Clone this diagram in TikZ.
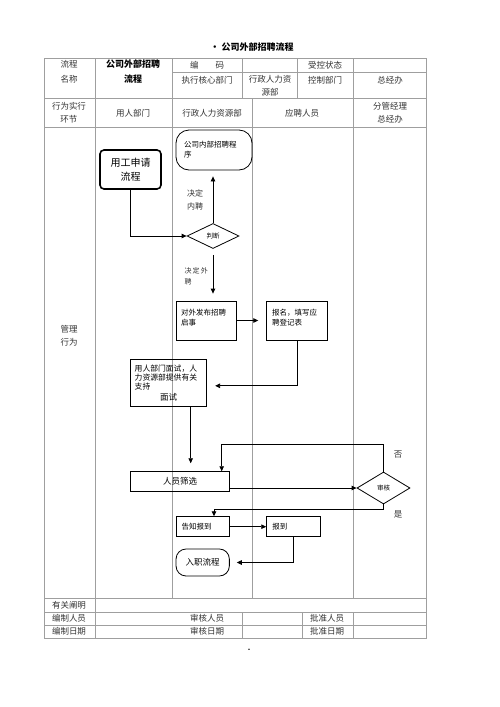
\documentclass[tikz,border=0pt]{standalone}
\usepackage{fontspec}
\setmainfont{Noto Sans CJK SC}
\usetikzlibrary{arrows.meta,shapes.geometric}

\begin{document}
\begin{tikzpicture}[x=1pt,y=-1pt,
  tbl/.style={draw=gray!75,line width=.6pt},
  cell/.style={font=\fontsize{8.5}{13}\selectfont,align=center,text=black!80},
  flow/.style={draw,line width=.8pt,font=\fontsize{7.5}{10}\selectfont,align=left,inner sep=3pt},
  arr/.style={-{Triangle[length=5pt,width=4.5pt]},line width=.8pt}]
\useasboundingbox (0,0) rectangle (500,707);
\node[font=\bfseries\fontsize{9}{11}\selectfont] (title) at (252,47) {\textbullet\ 公司外部招聘流程};
\draw[tbl] (44,58) rectangle (426,638);
\draw[tbl] (172,72) -- (426,72);
\foreach \y in {98,127,598,612,625} \draw[tbl] (44,\y) -- (426,\y);
\draw[tbl] (95,58) -- (95,638) (172,58) -- (172,598) (252,98) -- (252,598) (353,58) -- (353,598);
\draw[tbl] (242,58) -- (242,98) (297,58) -- (297,98);
\draw[tbl] (242,612) -- (242,638) (302,612) -- (302,638) (353,612) -- (353,638);
\node[cell] (flowname) at (69,72) {流程\\[2pt]名称};
\node[cell,font=\bfseries\fontsize{9}{13}\selectfont,text=black] (flowtitle) at (133,72) {公司外部招聘\\[2pt]流程};
\node[cell] (code) at (207,65) {编\hspace{2em}码};
\node[cell] (ctrlstate) at (325,65) {受控状态};
\node[cell] (execdept) at (207,80) {执行核心部门};
\node[cell] (hrdept) at (270,86) {行政人力资\\源部};
\node[cell] (ctrldept) at (325,80) {控制部门};
\node[cell] (gmoffice) at (390,80) {总经办};
\node[cell] (stage) at (69,113) {行为实行\\环节};
\node[cell] (lanehire) at (133,113) {用人部门};
\node[cell] (lanehr) at (212,113) {行政人力资源部};
\node[cell] (laneapp) at (302,113) {应聘人员};
\node[cell] (lanegm) at (390,113) {分管经理\\总经办};
\node[cell] (mgmt) at (69,336) {管理\\行为};
\node[cell] (notes) at (69,605) {有关阐明};
\node[cell] (editor) at (69,618.5) {编制人员};
\node[cell] (editdate) at (69,631.5) {编制日期};
\node[cell] (checker) at (207,618.5) {审核人员};
\node[cell] (checkdate) at (207,631.5) {审核日期};
\node[cell] (approver) at (327,618.5) {批准人员};
\node[cell] (approvedate) at (327,631.5) {批准日期};
\node[font=\fontsize{7}{8}\selectfont] (pagedot) at (249,651) {\textbullet};

\node[flow,line width=1.6pt,rounded corners=4pt,minimum width=61pt,minimum height=39pt,align=center,font=\fontsize{10}{14}\selectfont] (apply) at (130.5,169.5) {用工申请\\流程};
\node[flow,rounded corners=13pt,minimum width=76pt,minimum height=40pt,text width=60pt] (internal) at (214,150) {公司内部招聘程\\序};
\node[flow,diamond,aspect=2,minimum width=52pt,minimum height=25pt,inner sep=0pt,align=center,font=\fontsize{6.5}{8}\selectfont] (judge) at (213,236) {判断};
\node[cell,font=\fontsize{8}{12.5}\selectfont] (inlabel) at (195,200) {决定\\内聘};
\node[cell,anchor=west,align=left,font=\fontsize{7}{11}\selectfont] (outlabel) at (181,276) {决\,定\,外\\聘};
\node[flow,minimum width=60pt,minimum height=39pt,text width=50pt,text depth=17pt] (publish) at (206,320.5) {对外发布招聘\\启事};
\node[flow,minimum width=60.6pt,minimum height=39pt,text width=50pt,text depth=17pt] (signup) at (297,320.5) {报名，填写应\\聘登记表};
\node[flow,minimum width=76pt,minimum height=47.7pt,text width=68pt,font=\fontsize{7.8}{9}\selectfont] (interview) at (168.7,382.8) {用人部门面试，人\\力资源部提供有关\\支持\\[2pt]\makebox[68pt][c]{\fontsize{8.5}{10}\selectfont 面试}};
\node[flow,minimum width=98.6pt,minimum height=19.3pt,align=center,font=\fontsize{8.5}{10}\selectfont] (screen) at (180,481.3) {人员筛选};
\node[flow,diamond,aspect=1.7,minimum width=53pt,minimum height=32pt,inner sep=0pt,align=center,font=\fontsize{6.5}{8}\selectfont] (review) at (383.5,488) {审核};
\node[cell] (nolabel) at (398,455) {否};
\node[cell] (yeslabel) at (398,514) {是};
\node[flow,minimum width=53.3pt,minimum height=20pt,text width=42pt] (notify) at (202.7,526.7) {告知报到};
\node[flow,minimum width=53.3pt,minimum height=20pt,text width=42pt] (arrive) at (293.3,526.7) {报到};
\node[flow,rounded corners=10pt,minimum width=53.3pt,minimum height=27pt,align=center,font=\fontsize{8.5}{10}\selectfont] (onboard) at (202.7,562.5) {入职流程};
\coordinate (noturn) at (221.7,444.3);
\coordinate (yesturn) at (214,509);

\draw[arr] (apply.south) |- (judge.west);
\draw[arr,shorten >=6pt] (judge.north) -- (judge.north |- internal.south);
\draw[arr,shorten <=6pt,shorten >=7pt] (judge.south) -- (judge.south |- publish.north);
\draw[arr,shorten >=8pt] (publish) -- (signup);
\draw[arr,shorten >=8pt] (signup.south) |- ([yshift=-3pt]interview.east);
\draw[arr,shorten >=8pt] ([xshift=22pt]interview.south) -- ([xshift=22pt]interview.south |- screen.north);
\draw[arr] (screen.east |- review.west) -- (review.west);
\draw[arr] (review.north) |- (noturn) -- (noturn |- screen.north);
\draw[arr] (review.south) |- (yesturn) -- (yesturn |- notify.north);
\draw[arr] (notify) -- (arrive);
\draw[arr,shorten >=7pt] (arrive.south) |- (onboard.east);
\end{tikzpicture}
\end{document}
